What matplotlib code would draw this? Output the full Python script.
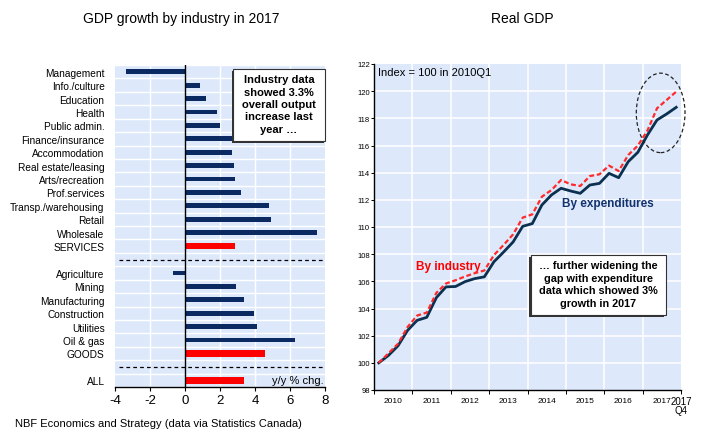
import matplotlib
matplotlib.use("Agg")
import matplotlib.pyplot as plt
from matplotlib.patches import Rectangle, Ellipse
import numpy as np

plt.rcParams['font.family'] = ['Liberation Sans', 'DejaVu Sans']
NARROW = ['Liberation Sans Narrow', 'Liberation Sans', 'DejaVu Sans']

# ---------------- data ----------------
services_labels = ['Management', 'Info./culture', 'Education', 'Health', 'Public admin.',
                   'Finance/insurance', 'Accommodation', 'Real estate/leasing',
                   'Arts/recreation', 'Prof.services', 'Transp./warehousing', 'Retail',
                   'Wholesale']
services_values = [-3.4, 0.85, 1.2, 1.8, 2.0, 2.7, 2.7, 2.8, 2.85, 3.2, 4.8, 4.9, 7.55]
services_total = 2.85
goods_labels = ['Agriculture', 'Mining', 'Manufacturing', 'Construction', 'Utilities',
                'Oil & gas']
goods_values = [-0.7, 2.9, 3.35, 3.95, 4.1, 6.3]
goods_total = 4.55
all_total = 3.35

years = [2010, 2011, 2012, 2013, 2014, 2015, 2016, 2017]
expenditure = [100.0, 100.54, 101.25, 102.39, 103.13, 103.35, 104.8, 105.59, 105.62, 105.98,
               106.2, 106.33, 107.44, 108.15, 108.9, 110.05, 110.25, 111.62, 112.36, 112.85,
               112.65, 112.48, 113.09, 113.21, 113.95, 113.63, 114.81, 115.5, 116.77, 117.88,
               118.32, 118.81]
industry = [100.0, 100.7, 101.4, 102.64, 103.48, 103.7, 105.15, 105.84, 106.08, 106.36,
            106.6, 106.8, 107.93, 108.67, 109.46, 110.69, 110.93, 112.23, 112.72, 113.46,
            113.14, 113.02, 113.75, 113.88, 114.52, 114.12, 115.3, 115.99, 117.1, 118.74,
            119.35, 119.96]

# ---------------- style ----------------
BG = '#dde9fb'
NAVY = '#0c2a62'
LINE_NAVY = '#0b3050'
RED = '#ff0000'

W, H = 701, 431
fig = plt.figure(figsize=(W / 100, H / 100), dpi=100)

def fx(px):
    return px / W

def fy(py):
    return 1 - py / H

# ---------------- left panel ----------------
axL = fig.add_axes([fx(115), fy(388), fx(325) - fx(115), fy(66) - fy(388)])
axL.set_facecolor(BG)

n_s = len(services_labels)
n_g = len(goods_labels)
pos_s = list(range(n_s))
pos_st = n_s
pos_g = list(range(n_s + 2, n_s + 2 + n_g))
pos_gt = n_s + 2 + n_g
pos_all = pos_gt + 2
sep1 = n_s + 1
sep2 = pos_gt + 1

axL.barh(pos_s, services_values, height=0.36, color=NAVY, zorder=3)
axL.barh(pos_g, goods_values, height=0.36, color=NAVY, zorder=3)
axL.barh([pos_st, pos_gt, pos_all], [services_total, goods_total, all_total],
         height=0.5, color=RED, zorder=3)

axL.set_xlim(-4, 8)
axL.set_ylim(pos_all + 0.5, -0.5)
for x in [-2, 2, 4, 6]:
    axL.axvline(x, color='white', lw=1.0, zorder=1)
for y in np.arange(-0.5, pos_all + 1, 1.0):
    axL.axhline(y, color='white', lw=1.0, zorder=1)
axL.axvline(0, color='black', lw=1.0, zorder=4)
for y in [sep1, sep2]:
    axL.plot([-3.8, 8], [y, y], color='black', lw=0.9, ls=(0, (3, 2.5)), zorder=4)

ylabels = {p: l for p, l in zip(pos_s, services_labels)}
ylabels.update({p: l for p, l in zip(pos_g, goods_labels)})
ylabels[pos_st] = 'SERVICES'
ylabels[pos_gt] = 'GOODS'
ylabels[pos_all] = 'ALL'
ypos = sorted(ylabels)
axL.set_yticks(ypos)
axL.set_yticklabels([ylabels[p] for p in ypos], fontsize=7.3)
axL.tick_params(axis='y', length=0, pad=7.5)
axL.set_xticks([-4, -2, 0, 2, 4, 6, 8])
axL.set_xticklabels(['-4', '-2', '0', '2', '4', '6', '8'], fontsize=9.5)
axL.tick_params(axis='x', direction='out', length=3, width=0.8, pad=2)
for s in ['left', 'right', 'top']:
    axL.spines[s].set_visible(False)
axL.spines['bottom'].set_linewidth(1.0)

axL.text(0.995, (388 - 381) / 322, 'y/y % chg.', transform=axL.transAxes,
         ha='right', va='center', fontsize=8, zorder=5)

# text box left
bx0, bx1 = (233 - 115) / 210, (325 - 115) / 210
by1, by0 = 1 - (70 - 66) / 322, 1 - (142 - 66) / 322
axL.add_patch(Rectangle((bx0 - 0.006, by0 - 0.005), bx1 - bx0, by1 - by0,
                        transform=axL.transAxes, facecolor='#333333', edgecolor='none',
                        zorder=5, clip_on=False))
axL.add_patch(Rectangle((bx0, by0), bx1 - bx0, by1 - by0, transform=axL.transAxes,
                        facecolor='white', edgecolor='#333333', lw=0.8, zorder=6,
                        clip_on=False))
axL.text((bx0 + bx1) / 2, (by0 + by1) / 2 + 0.003,
         'Industry data\nshowed 3.3%\noverall output\nincrease last\nyear \u2026',
         transform=axL.transAxes, ha='center', va='center', fontsize=8.0,
         fontweight='bold', linespacing=1.3, zorder=7)

fig.text(fx(181), fy(19), 'GDP growth by industry in 2017', ha='center', va='center',
         fontsize=10)

# ---------------- right panel ----------------
axR = fig.add_axes([fx(374), fy(391), fx(681) - fx(374), fy(65) - fy(391)])
axR.set_facecolor(BG)
nq = len(expenditure)
xq = [years[0] + (i + 0.5) / 4 for i in range(nq)]
axR.set_xlim(years[0], years[-1] + 1)
axR.set_ylim(98, 122)
for x in range(years[0] + 1, years[-1] + 1):
    axR.axvline(x, color='white', lw=1.1, zorder=1)
for y in range(100, 122, 2):
    axR.axhline(y, color='white', lw=1.1, zorder=1)

axR.plot(xq, expenditure, color=LINE_NAVY, lw=2.0, zorder=3)
axR.plot(xq, industry, color='#ff2a2a', lw=1.6, ls=(0, (2.2, 1.2)), zorder=4)

axR.set_yticks(range(98, 123, 2))
axR.set_yticklabels([str(v) for v in range(98, 123, 2)], fontsize=5.5, family=NARROW)
axR.tick_params(axis='y', direction='out', length=2, width=0.7, pad=1)
axR.set_xticks(list(range(years[0], years[-1] + 2)))
axR.set_xticklabels([''] * (len(years)) + ['2017\nQ4'], fontsize=7, linespacing=0.95)
axR.set_xticks([y + 0.5 for y in years], minor=True)
axR.set_xticklabels([str(y) for y in years], minor=True, fontsize=6, family=NARROW)
axR.tick_params(axis='x', which='major', direction='out', length=3, width=0.7, pad=1)
axR.tick_params(axis='x', which='minor', length=0, pad=5)
for s in ['right', 'top']:
    axR.spines[s].set_visible(False)
axR.spines['left'].set_linewidth(1.0)
axR.spines['bottom'].set_linewidth(1.0)

axR.add_patch(Ellipse((2017.47, 118.4), 1.27, 5.85, facecolor='none', edgecolor='#222222',
                      lw=0.9, ls=(0, (3, 2)), zorder=5, clip_on=False))

axR.text(0.013, 1 - (73 - 65) / 326, 'Index = 100 in 2010Q1', transform=axR.transAxes,
         ha='left', va='center', fontsize=8)
axR.text((562 - 374) / 307, 1 - (204 - 65) / 326, 'By expenditures', transform=axR.transAxes,
         ha='left', va='center', fontsize=8.5, fontweight='bold', color='#13336e')
axR.text((416 - 374) / 307, 1 - (267 - 65) / 326, 'By industry', transform=axR.transAxes,
         ha='left', va='center', fontsize=8.5, fontweight='bold', color=RED)

rx0, rx1 = (531 - 374) / 307, (666 - 374) / 307
ry1, ry0 = 1 - (256 - 65) / 326, 1 - (316 - 65) / 326
axR.add_patch(Rectangle((rx0 - 0.005, ry0 - 0.005), rx1 - rx0, ry1 - ry0,
                        transform=axR.transAxes, facecolor='#333333', edgecolor='none',
                        zorder=5))
axR.add_patch(Rectangle((rx0, ry0), rx1 - rx0, ry1 - ry0, transform=axR.transAxes,
                        facecolor='white', edgecolor='#333333', lw=0.8, zorder=6))
axR.text((rx0 + rx1) / 2, (ry0 + ry1) / 2 + 0.003,
         '\u2026 further widening the\ngap with expenditure\ndata which showed 3%\ngrowth in 2017',
         transform=axR.transAxes, ha='center', va='center', fontsize=7.8,
         fontweight='bold', linespacing=1.3, zorder=7)

fig.text(fx(522), fy(19), 'Real GDP', ha='center', va='center', fontsize=10)

fig.text(fx(15), fy(419.5), 'NBF Economics and Strategy (data via Statistics Canada)',
         ha='left', va='top', fontsize=8)

fig.savefig('out.png', dpi=100)
